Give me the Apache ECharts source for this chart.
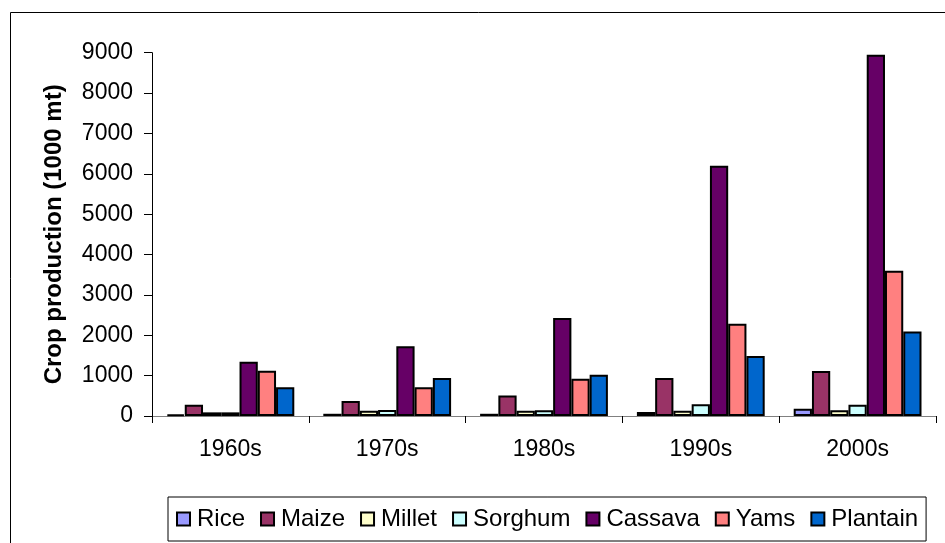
<!DOCTYPE html>
<html>
<head>
<meta charset="utf-8">
<script src="https://cdn.jsdelivr.net/npm/echarts@6/dist/echarts.min.js"></script>
<style>
html,body{margin:0;padding:0;background:#fff;}
#chart{width:945px;height:543px;}
</style>
</head>
<body>
<div id="chart"></div>
<script>
const decades = ['1960s', '1970s', '1980s', '1990s', '2000s'];
const rice     = [40, 55, 55, 100, 180];
const maize    = [280, 370, 510, 940, 1115];
const millet   = [90, 130, 130, 130, 140];
const sorghum  = [90, 150, 140, 290, 280];
const cassava  = [1345, 1725, 2425, 6200, 8950];
const yams     = [1120, 710, 925, 2285, 3600];
const plantain = [710, 940, 1020, 1485, 2095];
const yTicks = { min: 0, max: 9000, interval: 1000 };
const yTitle = 'Crop production (1000 mt)';

const seriesDefs = [
  { name: 'Rice', data: rice, color: '#9999FF' },
  { name: 'Maize', data: maize, color: '#993366' },
  { name: 'Millet', data: millet, color: '#FFFFCC' },
  { name: 'Sorghum', data: sorghum, color: '#CCFFFF' },
  { name: 'Cassava', data: cassava, color: '#660066' },
  { name: 'Yams', data: yams, color: '#FF8080' },
  { name: 'Plantain', data: plantain, color: '#0066CC' }
];

const chart = echarts.init(document.getElementById('chart'), null, { renderer: 'canvas' });
const font = 'Liberation Sans, Arial, sans-serif';
chart.setOption({
  animation: false,
  backgroundColor: '#fff',
  textStyle: { fontFamily: font, color: '#000' },
  graphic: [{
    type: 'rect',
    shape: { x: 10.5, y: 12.5, width: 960, height: 560 },
    style: { fill: 'none', stroke: '#000', lineWidth: 1 },
    silent: true
  }],
  grid: { left: 152, right: 9, top: 52.7, bottom: 127, containLabel: false },
  legend: {
    left: 168, top: 497,
    padding: [10, 8, 10, 8],
    itemGap: 15,
    itemWidth: 13, itemHeight: 13,
    icon: 'rect',
    borderColor: '#000', borderWidth: 1,
    textStyle: { fontSize: 24, fontFamily: font, color: '#000', lineHeight: 24, padding: [0, 0, 0, 2] },
    data: seriesDefs.map(s => s.name)
  },
  xAxis: {
    type: 'category',
    data: decades,
    axisLine: { lineStyle: { color: '#808080', width: 1 } },
    axisTick: { show: true, length: 7, lineStyle: { color: '#000' } },
    axisLabel: { fontSize: 23, color: '#000', margin: 22, fontFamily: font },
    splitLine: { show: false }
  },
  yAxis: {
    type: 'value',
    min: yTicks.min, max: yTicks.max, interval: yTicks.interval,
    name: yTitle,
    nameLocation: 'middle',
    nameGap: 86,
    nameRotate: 90,
    nameTextStyle: { fontSize: 24, fontWeight: 'bold', color: '#000', fontFamily: font },
    axisLine: { show: true, lineStyle: { color: '#000', width: 1 } },
    axisTick: { show: true, length: 8, lineStyle: { color: '#000' } },
    axisLabel: { fontSize: 23, color: '#000', margin: 19, fontFamily: font, formatter: v => String(v) },
    splitLine: { show: false }
  },
  series: seriesDefs.map(s => ({
    type: 'bar',
    name: s.name,
    data: s.data,
    barGap: '0%',
    barCategoryGap: '18.5%',
    itemStyle: { color: s.color, borderColor: '#000', borderWidth: 2 }
  }))
});
</script>
</body>
</html>
